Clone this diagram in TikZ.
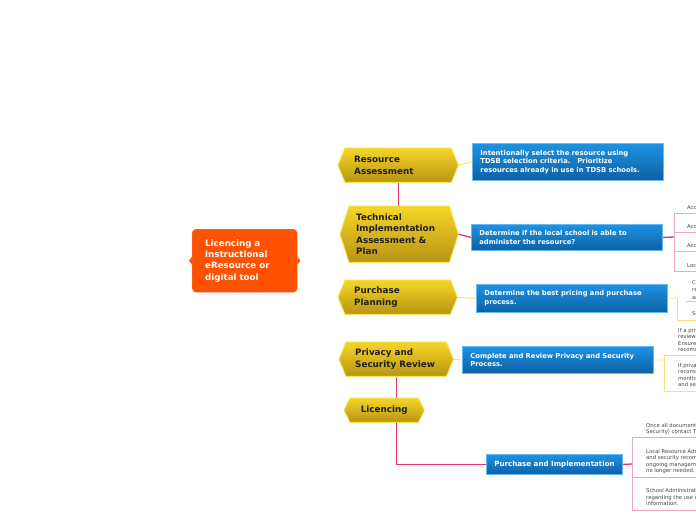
\documentclass[tikz,border=0pt]{standalone}
\usepackage{fontspec}
\setmainfont{DejaVu Sans}
\definecolor{orng}{RGB}{255,82,0}
\definecolor{ytop}{RGB}{247,214,40}
\definecolor{ybot}{RGB}{183,148,18}
\definecolor{yedge}{RGB}{246,228,90}
\definecolor{btop}{RGB}{30,146,228}
\definecolor{bbot}{RGB}{13,96,164}
\definecolor{bedge}{RGB}{100,185,240}
\definecolor{pinkline}{RGB}{226,50,120}
\definecolor{pinklight}{RGB}{242,165,198}
\definecolor{ylline}{RGB}{247,226,120}
\definecolor{smalltext}{RGB}{70,70,70}
\definecolor{greenline}{RGB}{190,220,170}
\newcommand\hexfill[2]{\path[top color=ytop,bottom color=ybot,draw=yedge,line width=0.9pt]
  (#1.west) -- ([xshift=#2pt]#1.north west) -- ([xshift=-#2pt]#1.north east) -- (#1.east)
  -- ([xshift=-#2pt]#1.south east) -- ([xshift=#2pt]#1.south west) -- cycle;}
\begin{document}
\begin{tikzpicture}[x=1pt,y=-1pt,
  yshape/.style={rectangle,inner sep=0pt,anchor=north west},
  ytext/.style={anchor=west,align=left,inner sep=0pt,text=black!88,
    font=\bfseries\fontsize{8.8}{11.3}\selectfont},
  bluebox/.style={rectangle,anchor=north west,inner xsep=8pt,inner ysep=0pt,
    top color=btop,bottom color=bbot,draw=bedge,line width=0.8pt,text=white,align=left,
    font=\bfseries\fontsize{6.8}{8.6}\selectfont},
  rootbox/.style={rectangle,rounded corners=4pt,anchor=north west,inner xsep=13pt,inner ysep=0pt,
    fill=orng,draw=orng!85!white,text=white,align=left,
    font=\bfseries\fontsize{8.7}{11.3}\selectfont},
  pinkthick/.style={draw=pinkline,line width=1.3pt},
  pinkthin/.style={draw=pinklight,line width=0.7pt},
  ythick/.style={draw=ylline,line width=1pt},
  ythin/.style={draw=ylline,line width=0.7pt},
  small/.style={anchor=west,align=left,inner sep=0pt,text=smalltext,
    font=\fontsize{5.3}{6.5}\selectfont}
]
\useasboundingbox (0,0) rectangle (696,520);
\clip (0,0) rectangle (696,520);

% shape holders
\node[yshape,minimum width=120pt,minimum height=34pt] (ra) at (338,148) {};
\node[yshape,minimum width=118pt,minimum height=56pt] (tia) at (340,206) {};
\node[yshape,minimum width=119pt,minimum height=34pt] (pp) at (338,280) {};
\node[yshape,minimum width=114pt,minimum height=34pt] (psr) at (339,342) {};
\node[yshape,minimum width=80pt,minimum height=24pt] (lic) at (344,398) {};

% connectors
\draw[pinkthick] (ra.south) -- (ra.south |- tia.north);
\draw[pinkthick] (psr.south) -- (psr.south |- lic.north);
\coordinate (licbot) at (psr.south |- lic.south);
\coordinate (k2) at (674,237);
\coordinate (k3) at (677,298);
\coordinate (k4) at (664,360);
\coordinate (k5) at (632,464);

% blue boxes
\node[bluebox,text width=175pt,minimum height=37pt] (b1) at (472,143)
  {Intentionally select the resource using\\TDSB selection criteria.\ \ \ Prioritize\\resources already in use in TDSB schools.};
\node[bluebox,text width=175pt,minimum height=26pt] (b2) at (471,224)
  {Determine if the local school is able to\\administer the resource?};
\node[bluebox,text width=175pt,minimum height=28pt] (b3) at (476,284)
  {Determine the best pricing and purchase\\process.};
\node[bluebox,text width=175pt,minimum height=27pt] (b4) at (462,346)
  {Complete and Review Privacy and Security\\Process.};
\node[bluebox,align=center,minimum width=135pt,minimum height=20pt,
  font=\bfseries\fontsize{7.1}{8.6}\selectfont] (b5) at (486,454)
  {Purchase and Implementation};

\draw[pinkthick] (licbot) |- (b5.west);
\draw[ythick] (ra.east) -- (b1.west);
\draw[pinkthick] (tia.east) -- (b2.west);
\draw[ythick] (pp.east) -- (b3.west);
\draw[ythick] (psr.east) -- (b4.west);

% right-hand brackets
\draw[pinkthick] (b2.east) -- (k2);
\draw[pinkthin] (674,213) -- (674,271);
\foreach \yy in {213,232,251,271} \draw[pinkthin] (674,\yy) -- (700,\yy);
\node[small] (a1) at (687,208) {Access};
\node[small] (a2) at (687,227) {Access};
\node[small] (a3) at (687,246) {Access};
\node[small] (a4) at (687,266) {Local};

\draw[ythin] (b3.east) -- (k3);
\draw[ythin] (k3) -- (677,320) -- (700,320);
\draw[draw=greenline,line width=0.6pt] (686,301) -- (700,301);
\node[small,font=\fontsize{5.3}{7.5}\selectfont] (c1) at (692,290) {Consider\\review\\and};
\node[small] (c2) at (692,314) {Select};

\draw[ythin] (b4.east) -- (k4);
\draw[ythin] (700,355) -- (664,355) -- (664,391) -- (700,391);
\node[small] (d1) at (678,340) {If a privacy\\reviewed\\Ensure\\recommendations};
\node[small] (d2) at (678,375.5) {If privacy\\reconsider\\months\\and security};

\draw[pinkthick] (b5.east) -- (k5);
\draw[pinkthin] (632,437) -- (632,510);
\foreach \yy in {437,477,510} \draw[pinkthin] (632,\yy) -- (700,\yy);
\node[small] (e1) at (646,429) {Once all documentation\\Security) contact TDSB};
\node[small] (e2) at (646,461.5) {Local Resource Administrator\\and security recommendations\\ongoing management\\no longer needed.};
\node[small] (e3) at (646,497.5) {School Administrator\\regarding the use of\\information.};

% yellow hexagons
\hexfill{ra}{7}
\hexfill{tia}{9}
\hexfill{pp}{7}
\hexfill{psr}{7}
\hexfill{lic}{6}
\node[ytext] (rat) at ([xshift=16pt]ra.west) {Resource\\Assessment};
\node[ytext] (tiat) at ([xshift=16pt]tia.west) {Technical\\Implementation\\Assessment \&\\Plan};
\node[ytext] (ppt) at ([xshift=16pt]pp.west) {Purchase\\Planning};
\node[ytext] (psrt) at ([xshift=16pt]psr.west) {Privacy and\\Security Review};
\node[ytext,anchor=center] (lict) at (lic.center) {Licencing};

% root
\node[rootbox,text width=79pt,minimum height=63pt] (root) at (192,229)
  {Licencing a\\instructional\\eResource or\\digital tool};
\fill[orng] ([yshift=-4pt]root.west) -- ([xshift=-3pt]root.west) -- ([yshift=4pt]root.west) -- cycle;
\fill[orng] ([yshift=-4pt]root.east) -- ([xshift=3pt]root.east) -- ([yshift=4pt]root.east) -- cycle;
\end{tikzpicture}
\end{document}
